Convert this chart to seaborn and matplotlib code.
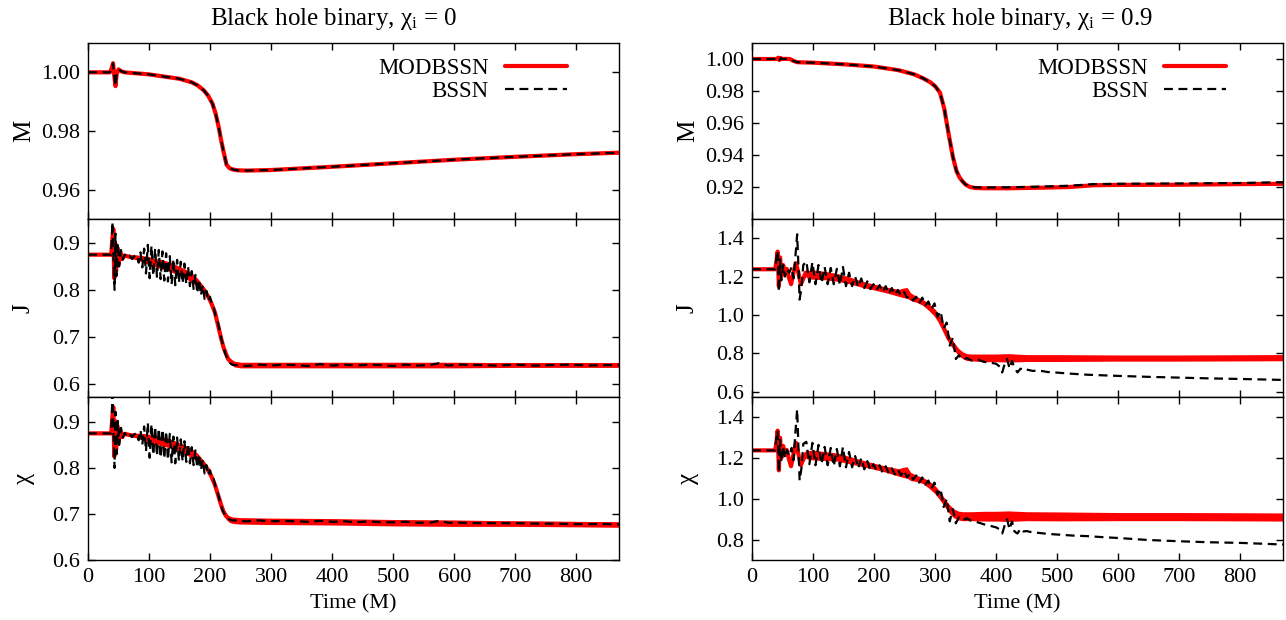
import matplotlib
matplotlib.use("Agg")
import matplotlib.pyplot as plt
import seaborn as sns
from matplotlib.ticker import FixedLocator, FormatStrFormatter

# ---------------- data ----------------
titles = [r"Black hole binary, $\mathrm{\chi}_\mathrm{i}$ = 0",
          r"Black hole binary, $\mathrm{\chi}_\mathrm{i}$ = 0.9"]
ylabels = ["M", "J", "χ"]
legend_labels = ["MODBSSN", "BSSN"]
xticks = [0, 100, 200, 300, 400, 500, 600, 700, 800]

# ---- left column (chi_i = 0) ----
M_L_MOD = [(0, 1.000), (36, 1.000), (39, 1.0015), (41, 1.0031), (43, 0.999), (45, 0.9953),
           (47, 0.9995), (50, 1.0010), (55, 1.0003), (60, 1.0000), (100, 0.9993), (150, 0.9978),
           (170, 0.9966), (180, 0.9955), (190, 0.9938), (197, 0.9920), (204, 0.9893), (209, 0.9860),
           (214, 0.9815), (218, 0.9770), (222, 0.9730), (227, 0.9685), (232, 0.9673), (237, 0.9669),
           (245, 0.9666), (260, 0.9665), (300, 0.9667), (400, 0.9678), (500, 0.9690), (600, 0.9702),
           (700, 0.9712), (800, 0.9721), (870, 0.9726)]
M_L_BSSN = [(0, 1.000), (36, 1.000), (39, 1.0015), (41, 1.0031), (43, 0.999), (45, 0.9953),
            (47, 0.9995), (50, 1.0010), (55, 1.0003), (60, 1.0000), (100, 0.9993), (150, 0.9978),
            (170, 0.9966), (180, 0.9955), (190, 0.9938), (197, 0.9920), (204, 0.9893), (209, 0.9860),
            (214, 0.9815), (218, 0.9770), (222, 0.9730), (227, 0.9685), (232, 0.9673), (237, 0.9669),
            (245, 0.9666), (260, 0.9665), (300, 0.9667), (400, 0.9678), (500, 0.9690), (600, 0.9702),
            (700, 0.9712), (800, 0.9721), (870, 0.9726)]

# (time, centre, half-width of the noisy band)
J_L_MOD = [(0, .875, 0), (38, .875, 0), (40, .910, .004), (41.5, .930, .006), (43, .825, .006),
           (44.5, .900, .006), (46, .840, .006), (48, .890, .005), (50, .855, .005), (53, .880, .004),
           (56, .866, .004), (60, .873, .003), (70, .870, .003), (80, .869, .005), (90, .866, .007),
           (100, .862, .009), (110, .858, .009), (120, .855, .010), (130, .851, .010), (140, .846, .010),
           (150, .840, .010), (160, .834, .010), (170, .826, .010), (180, .815, .009), (190, .800, .007),
           (196, .788, .006), (202, .772, .005), (208, .752, .005), (213, .725, .005), (218, .697, .005),
           (222, .678, .005), (226, .664, .005), (230, .652, .006), (235, .646, .006), (240, .642, .006),
           (250, .640, .006), (300, .640, .006), (400, .640, .006), (500, .640, .006), (600, .640, .006),
           (700, .640, .005), (800, .640, .005), (870, .640, .005)]
J_L_BSSN = [(0, .875), (38, .875), (40, .945), (42, .860), (43.5, .800), (45, .920), (47, .830),
            (49, .900), (51, .850), (54, .885), (57, .865), (60, .875), (64, .868), (68, .873),
            (72, .866), (76, .872),
            (80, .875), (83, .858), (86, .880), (89, .848), (92, .888), (95, .835), (98, .896),
            (101, .825), (104, .894), (107, .830), (110, .888), (113, .828), (116, .885), (119, .823),
            (122, .882), (125, .820), (128, .878), (131, .818), (134, .872), (137, .812), (140, .866),
            (143, .810), (146, .864), (149, .815), (152, .860), (155, .814), (158, .856), (161, .812),
            (164, .850), (167, .808), (170, .840), (173, .802), (176, .832), (179, .793), (182, .822),
            (185, .788), (188, .810), (191, .781), (194, .798), (197, .776), (200, .785), (203, .768),
            (206, .762), (209, .745),
            (212, .735), (216, .712), (220, .688), (224, .668), (228, .654), (232, .645), (236, .641),
            (240, .640), (260, .638), (280, .641), (300, .639), (320, .641), (340, .640), (360, .638),
            (380, .642), (400, .639), (420, .641), (440, .639), (460, .641), (480, .640), (500, .638),
            (520, .641), (540, .639), (560, .640), (575, .644), (590, .639), (610, .641), (640, .640),
            (670, .639), (700, .641), (730, .639), (760, .640), (790, .641), (820, .639), (850, .640),
            (870, .640)]

X_L_MOD = [(0, .875, 0), (38, .875, 0), (40, .912, .004), (41.5, .932, .006), (43, .825, .006),
           (44.5, .902, .006), (46, .840, .006), (48, .892, .005), (50, .856, .005), (53, .881, .004),
           (56, .867, .004), (60, .874, .003), (70, .871, .003), (80, .870, .005), (90, .868, .007),
           (100, .864, .009), (110, .861, .009), (120, .858, .010), (130, .855, .010), (140, .850, .010),
           (150, .845, .010), (160, .839, .010), (170, .832, .010), (180, .822, .009), (190, .808, .007),
           (196, .797, .006), (202, .782, .006), (208, .763, .006), (213, .742, .006), (218, .720, .006),
           (222, .705, .006), (226, .696, .006), (230, .690, .007), (235, .687, .007), (240, .686, .007),
           (250, .685, .007), (300, .684, .007), (400, .683, .007), (500, .681, .007), (600, .680, .007),
           (700, .679, .006), (800, .678, .006), (870, .677, .006)]
X_L_BSSN = [(0, .875), (38, .875), (40, .960), (42, .870), (43.5, .800), (45, .922), (47, .830),
            (49, .902), (51, .850), (54, .887), (57, .866), (60, .876), (64, .868), (68, .874),
            (72, .867), (76, .873),
            (80, .876), (83, .860), (86, .882), (89, .850), (92, .890), (95, .836), (98, .898),
            (101, .822), (104, .895), (107, .828), (110, .890), (113, .826), (116, .886), (119, .822),
            (122, .884), (125, .820), (128, .880), (131, .817), (134, .874), (137, .812), (140, .868),
            (143, .810), (146, .866), (149, .815), (152, .862), (155, .814), (158, .858), (161, .813),
            (164, .853), (167, .810), (170, .845), (173, .806), (176, .838), (179, .800), (182, .830),
            (185, .795), (188, .818), (191, .788), (194, .806), (197, .784), (200, .795), (203, .776),
            (206, .776), (209, .758),
            (212, .748), (216, .728), (220, .710), (224, .698), (228, .691), (232, .688), (236, .686),
            (240, .686), (260, .684), (280, .686), (300, .684), (320, .685), (340, .684), (360, .683),
            (380, .685), (400, .683), (420, .684), (440, .682), (460, .684), (480, .682), (500, .682),
            (520, .683), (540, .681), (560, .681), (575, .685), (590, .681), (610, .681), (640, .680),
            (670, .680), (700, .680), (730, .679), (760, .679), (790, .678), (820, .678), (850, .678),
            (870, .677)]

# ---- right column (chi_i = 0.9) ----
M_R_MOD = [(0, 1.000), (40, 1.000), (43, 1.0008), (45, 0.9994), (47, 1.0006), (50, 1.0000),
           (55, 1.0001), (62, 1.0000), (68, 0.9988), (74, 0.9980), (100, 0.9977), (150, 0.9967),
           (200, 0.9953), (240, 0.9930), (265, 0.9905), (280, 0.9880), (292, 0.9855), (300, 0.9830),
           (308, 0.9790), (315, 0.9690), (322, 0.9535), (329, 0.9390), (335, 0.9300), (340, 0.9260),
           (345, 0.9235), (350, 0.9215), (357, 0.9200), (365, 0.9194), (380, 0.9192), (420, 0.9192),
           (480, 0.9196), (520, 0.9200), (560, 0.9211), (600, 0.9213), (700, 0.9214), (800, 0.9218),
           (870, 0.9220)]
M_R_BSSN = [(0, 1.000), (40, 1.000), (43, 1.0008), (45, 0.9994), (47, 1.0006), (50, 1.0000),
            (55, 1.0001), (62, 1.0000), (68, 0.9988), (74, 0.9980), (100, 0.9977), (150, 0.9967),
            (200, 0.9953), (240, 0.9930), (265, 0.9905), (280, 0.9880), (292, 0.9855), (300, 0.9830),
            (308, 0.9790), (315, 0.9690), (322, 0.9535), (329, 0.9390), (335, 0.9300), (340, 0.9260),
            (345, 0.9235), (350, 0.9215), (357, 0.9202), (365, 0.9198), (380, 0.9197), (420, 0.9198),
            (480, 0.9203), (520, 0.9208), (560, 0.9218), (600, 0.9220), (700, 0.9222), (800, 0.9225),
            (870, 0.9230)]

J_R_MOD = [(0, 1.238, 0), (38, 1.238, 0), (40, 1.28, .010), (42, 1.33, .012), (44, 1.15, .012),
           (46, 1.30, .012), (48, 1.20, .012), (51, 1.26, .010), (54, 1.22, .010), (57, 1.24, .010),
           (60, 1.20, .008), (64, 1.16, .008), (68, 1.22, .008), (72, 1.27, .010), (76, 1.22, .010),
           (80, 1.16, .010), (84, 1.19, .015), (88, 1.22, .020), (92, 1.21, .022), (100, 1.21, .024),
           (120, 1.205, .022), (140, 1.195, .020), (160, 1.18, .018), (180, 1.16, .016),
           (200, 1.145, .015), (220, 1.13, .015), (240, 1.115, .018), (248, 1.115, .025),
           (254, 1.115, .028), (260, 1.095, .020), (270, 1.080, .015), (280, 1.065, .015),
           (290, 1.040, .018), (300, 1.010, .020), (308, 0.970, .020), (315, 0.925, .020),
           (322, 0.878, .020), (330, 0.840, .020), (338, 0.808, .018), (345, 0.790, .018),
           (352, 0.780, .018), (360, 0.778, .018), (380, 0.776, .020), (400, 0.776, .020),
           (420, 0.776, .022), (450, 0.775, .018), (500, 0.775, .018), (600, 0.775, .016),
           (700, 0.775, .016), (800, 0.776, .016), (870, 0.777, .016)]
J_R_BSSN = [(0, 1.238), (38, 1.238), (40, 1.30), (42, 1.335), (44, 1.12), (46, 1.29), (48, 1.18),
            (51, 1.26), (54, 1.20), (57, 1.24), (61, 1.22), (65, 1.25), (68, 1.19), (71, 1.30),
            (74, 1.42), (76, 1.26), (78, 1.08), (81, 1.14), (84, 1.26),
            (89, 1.28), (94, 1.17), (99, 1.275), (104, 1.16), (109, 1.26), (114, 1.165), (119, 1.25),
            (124, 1.16), (129, 1.245), (134, 1.16), (139, 1.24), (144, 1.155), (149, 1.25), (154, 1.15),
            (159, 1.22), (164, 1.15), (169, 1.20), (174, 1.145), (179, 1.19), (184, 1.14), (189, 1.175),
            (194, 1.135), (199, 1.16), (204, 1.13), (209, 1.155), (214, 1.12), (219, 1.15), (224, 1.11),
            (229, 1.14), (234, 1.105), (239, 1.13), (244, 1.10), (249, 1.12), (254, 1.09), (259, 1.10),
            (264, 1.075), (269, 1.095), (274, 1.06), (279, 1.09), (284, 1.05), (289, 1.07), (294, 1.03),
            (299, 1.06), (304, 0.99), (309, 1.02), (314, 0.93), (319, 0.96), (324, 0.84), (329, 0.88),
            (334, 0.77), (339, 0.79),
            (345, 0.765), (352, 0.775), (360, 0.762), (370, 0.768), (380, 0.755), (390, 0.752),
            (400, 0.745), (406, 0.73), (410, 0.70), (414, 0.745), (418, 0.77), (422, 0.72), (426, 0.76),
            (430, 0.725), (435, 0.70), (440, 0.72), (445, 0.71), (450, 0.715), (460, 0.708), (470, 0.71),
            (485, 0.702), (500, 0.699), (525, 0.693), (550, 0.688), (575, 0.685), (600, 0.682),
            (650, 0.677), (700, 0.673), (750, 0.669), (800, 0.666), (870, 0.661)]

X_R_MOD = [(0, 1.238, 0), (38, 1.238, 0), (40, 1.28, .010), (42, 1.335, .012), (44, 1.14, .012),
           (46, 1.30, .012), (48, 1.20, .012), (51, 1.26, .010), (54, 1.22, .010), (57, 1.24, .010),
           (60, 1.20, .008), (64, 1.16, .008), (68, 1.22, .008), (72, 1.275, .010), (76, 1.22, .010),
           (80, 1.165, .010), (84, 1.195, .015), (88, 1.22, .020), (92, 1.215, .022), (100, 1.215, .024),
           (120, 1.21, .022), (140, 1.205, .020), (160, 1.19, .018), (180, 1.175, .016),
           (200, 1.16, .015), (220, 1.145, .015), (240, 1.13, .018), (248, 1.13, .025),
           (254, 1.13, .028), (260, 1.11, .020), (270, 1.10, .015), (280, 1.09, .015),
           (290, 1.07, .018), (300, 1.045, .020), (308, 1.015, .020), (315, 0.985, .020),
           (322, 0.955, .022), (330, 0.930, .022), (338, 0.918, .022), (345, 0.915, .022),
           (352, 0.915, .022), (360, 0.915, .022), (380, 0.915, .024), (400, 0.915, .024),
           (420, 0.915, .026), (450, 0.915, .022), (500, 0.914, .022), (600, 0.913, .020),
           (700, 0.913, .020), (800, 0.912, .020), (870, 0.911, .020)]
X_R_BSSN = [(0, 1.238), (38, 1.238), (40, 1.30), (42, 1.335), (44, 1.13), (46, 1.29), (48, 1.18),
            (51, 1.26), (54, 1.20), (57, 1.24), (61, 1.21), (65, 1.25), (68, 1.19), (71, 1.32),
            (74, 1.44), (76, 1.26), (78, 1.09), (81, 1.15), (84, 1.27),
            (89, 1.28), (94, 1.17), (99, 1.275), (104, 1.165), (109, 1.265), (114, 1.17), (119, 1.255),
            (124, 1.165), (129, 1.25), (134, 1.16), (139, 1.245), (144, 1.16), (149, 1.255), (154, 1.155),
            (159, 1.23), (164, 1.155), (169, 1.21), (174, 1.15), (179, 1.20), (184, 1.145), (189, 1.185),
            (194, 1.14), (199, 1.17), (204, 1.14), (209, 1.165), (214, 1.13), (219, 1.16), (224, 1.125),
            (229, 1.15), (234, 1.12), (239, 1.145), (244, 1.115), (249, 1.14), (254, 1.105), (259, 1.125),
            (264, 1.095), (269, 1.115), (274, 1.08), (279, 1.105), (284, 1.07), (289, 1.09), (294, 1.05),
            (299, 1.08), (304, 1.02), (309, 1.05), (314, 0.96), (319, 1.00), (324, 0.89), (329, 0.95),
            (334, 0.88), (339, 0.91),
            (345, 0.895), (352, 0.905), (360, 0.89), (370, 0.885), (380, 0.875), (390, 0.868),
            (400, 0.86), (406, 0.85), (410, 0.83), (414, 0.87), (418, 0.90), (422, 0.85), (426, 0.89),
            (430, 0.84), (435, 0.83), (440, 0.855), (445, 0.84), (450, 0.842), (460, 0.835), (470, 0.833),
            (485, 0.828), (500, 0.825), (525, 0.82), (550, 0.817), (575, 0.812), (600, 0.808),
            (650, 0.798), (700, 0.792), (750, 0.787), (800, 0.784), (870, 0.776)]

# y ranges / ticks per panel
ylims_L = [(0.95, 1.01), (0.572, 0.951), (0.60, 0.954)]
ylims_R = [(0.90, 1.01), (0.572, 1.50), (0.70, 1.50)]
yticks_L = [[0.96, 0.98, 1.00], [0.6, 0.7, 0.8, 0.9], [0.6, 0.7, 0.8, 0.9]]
yticks_R = [[0.92, 0.94, 0.96, 0.98, 1.00], [0.6, 0.8, 1.0, 1.2, 1.4], [0.8, 1.0, 1.2, 1.4]]
yfmt = ["%.2f", "%.1f", "%.1f"]

# ---------------- style ----------------
sns.set_theme(style="ticks", rc={"axes.edgecolor": "black", "text.color": "black",
                                 "xtick.color": "black", "ytick.color": "black",
                                 "axes.labelcolor": "black", "axes.linewidth": 1.0})
plt.rcParams["font.family"] = ["Liberation Serif", "DejaVu Serif"]
plt.rcParams["mathtext.fontset"] = "custom"
plt.rcParams["mathtext.rm"] = "Liberation Serif"
plt.rcParams["mathtext.it"] = "Liberation Serif:italic"

FS_TICK = 16
FS_XLAB = 16
FS_YLAB = 18
FS_LEG = 16.5
FS_TITLE = 18
W, H = 1286, 620
fig = plt.figure(figsize=(W / 100, H / 100), dpi=100)

col_left_px = [88, 752]
col_w_px = 531
row_px = [(43, 219), (219, 397), (397, 560)]
title_x_px = [334, 1020]
legend_anchor = [(0.902, 0.915), (0.893, 0.915)]

panels = [
    [(M_L_MOD, M_L_BSSN), (J_L_MOD, J_L_BSSN), (X_L_MOD, X_L_BSSN)],
    [(M_R_MOD, M_R_BSSN), (J_R_MOD, J_R_BSSN), (X_R_MOD, X_R_BSSN)],
]
ylims = [ylims_L, ylims_R]
yticks = [yticks_L, yticks_R]


def draw(ax, red, black):
    rt = [p[0] for p in red]
    rv = [p[1] for p in red]
    if len(red[0]) == 3:
        lo = [p[1] - p[2] for p in red]
        hi = [p[1] + p[2] for p in red]
        ax.fill_between(rt, lo, hi, color="red", linewidth=0, zorder=2)
    sns.lineplot(x=rt, y=rv, ax=ax, color="red", linewidth=3, estimator=None,
                 sort=False, zorder=2)
    red_line = ax.lines[-1]
    bt = [p[0] for p in black]
    bv = [p[1] for p in black]
    sns.lineplot(x=bt, y=bv, ax=ax, color="black", linewidth=1.6, estimator=None,
                 sort=False, zorder=3)
    blk = ax.lines[-1]
    blk.set_linestyle((0, (4, 2.5)))
    return red_line, blk


for c in range(2):
    for r in range(3):
        top, bot = row_px[r]
        rect = [col_left_px[c] / W, 1 - bot / H, col_w_px / W, (bot - top) / H]
        ax = fig.add_axes(rect)
        red, black = panels[c][r]
        hr, hb = draw(ax, red, black)
        ax.set_xlim(0, 870)
        ax.set_ylim(*ylims[c][r])
        ax.xaxis.set_major_locator(FixedLocator(xticks))
        ax.yaxis.set_major_locator(FixedLocator(yticks[c][r]))
        ax.yaxis.set_major_formatter(FormatStrFormatter(yfmt[r]))
        ax.tick_params(direction="in", top=True, right=True, length=5, width=1,
                       labelsize=FS_TICK, pad=6)
        for s in ax.spines.values():
            s.set_linewidth(1.0)
            s.set_color("black")
        ax.set_ylabel(ylabels[r], fontsize=FS_YLAB)
        ax.yaxis.set_label_coords(-0.100, 0.5)
        if r < 2:
            ax.tick_params(labelbottom=False)
        else:
            ax.set_xlabel("Time (M)", fontsize=FS_XLAB, labelpad=5)
        if r == 0:
            ax.legend([hr, hb], legend_labels, loc="upper right",
                      bbox_to_anchor=legend_anchor[c], frameon=False, markerfirst=False,
                      handlelength=2.7, handletextpad=0.7, labelspacing=0.1,
                      borderpad=0, borderaxespad=0, fontsize=FS_LEG)
    fig.text(title_x_px[c] / W, 1 - 25 / H, titles[c], ha="center", va="baseline",
             fontsize=FS_TITLE)

fig.savefig("out.png", dpi=100)
